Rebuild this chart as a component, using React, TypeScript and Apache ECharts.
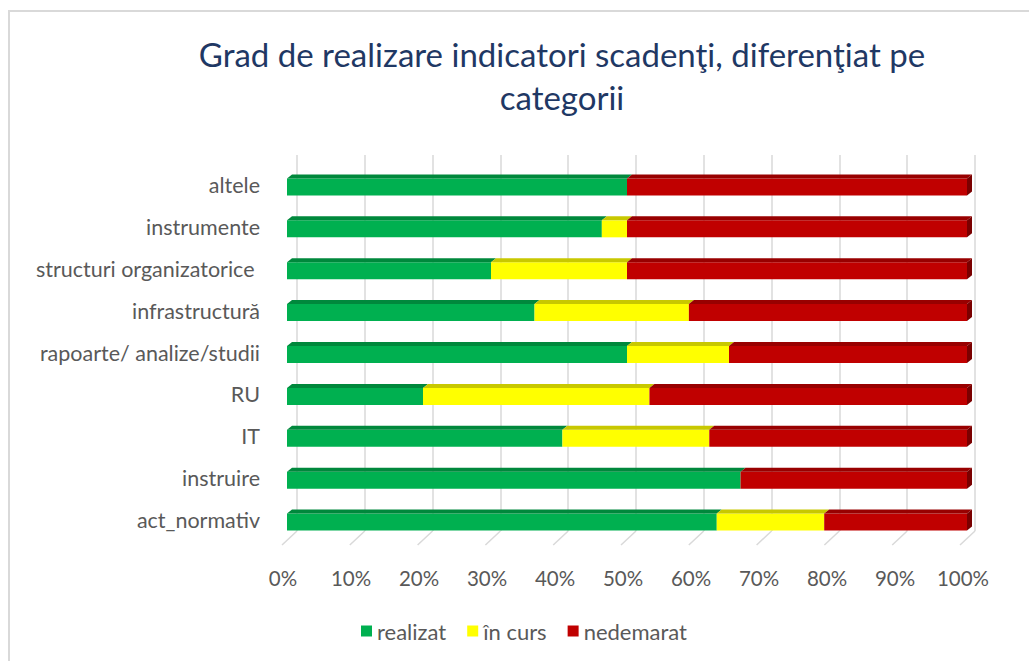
import React, { useEffect, useRef } from "react";
import * as echarts from "echarts";

const categories = [
  "act_normativ",
  "instruire",
  "IT",
  "RU",
  "rapoarte/ analize/studii",
  "infrastructură",
  "structuri organizatorice ",
  "instrumente",
  "altele",
];
const realizat = [63.2, 66.7, 40.5, 20.0, 50.0, 36.4, 30.0, 46.3, 50.0];
const inCurs = [15.8, 0, 21.6, 33.3, 15.0, 22.7, 20.0, 3.7, 0];
const nedemarat = [21.0, 33.3, 37.9, 46.7, 35.0, 40.9, 50.0, 50.0, 50.0];
const tickValues = [0, 10, 20, 30, 40, 50, 60, 70, 80, 90, 100];
const seriesNames = ["realizat", "în curs", "nedemarat"];
const titleText = "Grad de realizare indicatori scadenţi, diferenţiat pe\ncategorii";

const FONT = "Lato";
const colors = ["#00B050", "#FFFF00", "#C00000"];
const topColors = ["#00883C", "#C8C800", "#980000"];
const endColors = ["#006E30", "#A0A000", "#7A0000"];

export default function App() {
  const ref = useRef<HTMLDivElement>(null);
  useEffect(() => {
    if (!ref.current) return;
    const chart = echarts.init(ref.current, undefined, { renderer: "svg" });
    const all = [realizat, inCurs, nedemarat];
    const makeData = (k: number) =>
      categories.map((_, i) => {
        let start = 0;
        for (let j = 0; j < k; j++) start += all[j][i];
        return [i, start, start + all[k][i]];
      });
    const DX = 5;
    const DY = -4;
    const H = 17;
    const makeRender = (k: number) => (params: any, api: any) => {
      const cat = api.value(0);
      const s = api.value(1);
      const e = api.value(2);
      if (e - s <= 0) return null;
      const p0 = api.coord([s, cat]);
      const p1 = api.coord([e, cat]);
      const x0 = p0[0];
      const x1 = p1[0];
      const yTop = p0[1] - H / 2 + 2;
      const yBot = yTop + H;
      const children: any[] = [
        {
          type: "rect",
          shape: { x: x0, y: yTop, width: x1 - x0, height: H },
          style: { fill: colors[k] },
        },
        {
          type: "polygon",
          shape: {
            points: [
              [x0, yTop],
              [x1, yTop],
              [x1 + DX, yTop + DY],
              [x0 + DX, yTop + DY],
            ],
          },
          style: { fill: topColors[k] },
        },
      ];
      if (k === 2 || e >= 99.9) {
        children.push({
          type: "polygon",
          shape: {
            points: [
              [x1, yTop],
              [x1 + DX, yTop + DY],
              [x1 + DX, yBot + DY],
              [x1, yBot],
            ],
          },
          style: { fill: endColors[k] },
        });
      }
      return { type: "group", children };
    };

    const option: any = {
      animation: false,
      backgroundColor: "#ffffff",
      title: {
        text: titleText,
        left: 557,
        top: 27,
        textAlign: "center",
        textStyle: {
          fontFamily: FONT,
          fontSize: 33,
          fontWeight: "normal",
          color: "#1F3864",
          lineHeight: 43,
        },
      },
      graphic: [
        {
          type: "rect",
          shape: { x: 9, y: 11, width: 1100, height: 800 },
          style: { fill: "none", stroke: "#D9D9D9", lineWidth: 2 },
          z: -1,
        },
      ],
      legend: {
        data: seriesNames,
        top: 615,
        left: 356,
        icon: "rect",
        itemWidth: 11,
        itemHeight: 11,
        itemGap: 21,
        textStyle: { fontFamily: FONT, fontSize: 22, color: "#595959" },
      },
      grid: [
        { left: 287, right: 62, top: 164, bottom: 120 },
        { left: 297, width: 678, top: 155, height: 376 },
      ],
      xAxis: [
        {
          gridIndex: 0,
          type: "value",
          min: 0,
          max: 100,
          interval: 10,
          splitLine: { show: false },
          axisLine: { show: false },
          axisTick: { show: false },
          axisLabel: {
            formatter: "{value}%",
            margin: 26,
            padding: [0, 8, 0, 0],
            fontFamily: FONT,
            fontSize: 20.5,
            color: "#595959",
          },
        },
        {
          gridIndex: 1,
          type: "value",
          min: 0,
          max: 100,
          interval: 10,
          splitLine: { show: true, lineStyle: { color: "#D9D9D9", width: 1.5 } },
          axisLine: { show: false },
          axisTick: { show: false },
          axisLabel: { show: false },
        },
      ],
      yAxis: [
        {
          gridIndex: 0,
          type: "category",
          data: categories,
          axisLine: { show: false },
          axisTick: { show: false },
          axisLabel: {
            margin: 27,
            fontFamily: FONT,
            fontSize: 21.5,
            color: "#595959",
          },
        },
        {
          gridIndex: 1,
          type: "value",
          min: 0,
          max: 1,
          show: false,
        },
      ],
      series: [
        {
          type: "custom",
          name: "ticks",
          xAxisIndex: 1,
          yAxisIndex: 1,
          data: tickValues.map((v) => [v, 0]),
          renderItem: (params: any, api: any) => {
            const p = api.coord([api.value(0), 0]);
            return {
              type: "line",
              shape: { x1: p[0], y1: p[1], x2: p[0] - 15, y2: p[1] + 14 },
              style: { stroke: "#D9D9D9", lineWidth: 1.5 },
            };
          },
          silent: true,
          z: 1,
        },
        ...seriesNames.map((name, k) => ({
          type: "custom",
          name,
          xAxisIndex: 0,
          yAxisIndex: 0,
          itemStyle: { color: colors[k] },
          encode: { x: [1, 2], y: 0 },
          data: makeData(k),
          renderItem: makeRender(k),
          z: 5,
        })),
      ],
    };
    chart.setOption(option);
    return () => chart.dispose();
  }, []);
  return (
    <div
      ref={ref}
      style={{ position: "fixed", left: 0, top: 0, width: 1029, height: 661 }}
    />
  );
}
